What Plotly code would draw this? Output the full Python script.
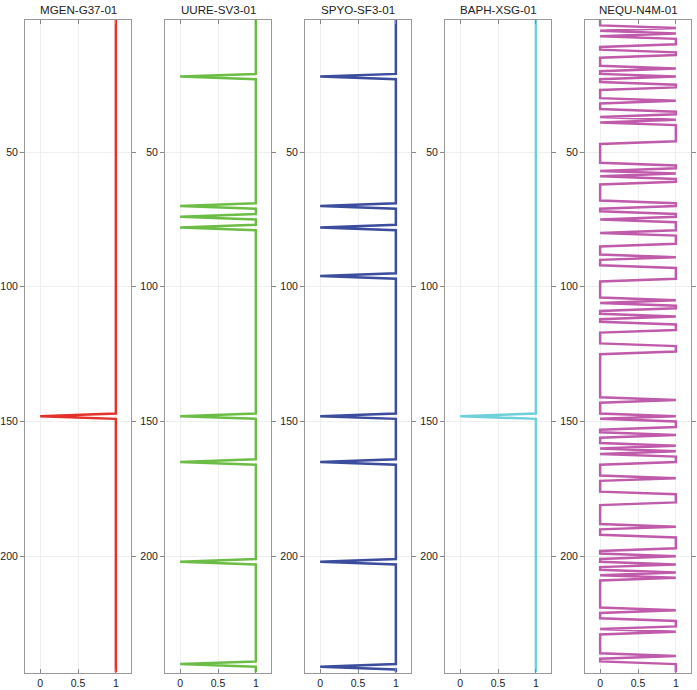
import plotly.graph_objects as go

n_rows = 243
rows = list(range(1, n_rows + 1))

titles = ["MGEN-G37-01", "UURE-SV3-01", "SPYO-SF3-01", "BAPH-XSG-01", "NEQU-N4M-01"]
colors = ["#e2322a", "#6cbd45", "#3b4d9c", "#6fd0d9", "#c05aab"]

# rows whose value is 0 (all other rows are 1)
mgen_zero_rows = [148]
uure_zero_rows = [22, 70, 74, 78, 148, 165, 202, 240]
spyo_zero_rows = [22, 70, 78, 96, 148, 165, 202, 241]
baph_zero_rows = [148]
# runs (start, end) of rows with value 0
nequ_zero_runs = [(1, 3), (5, 5), (7, 7), (11, 12), (15, 18), (20, 21), (23, 24), (27, 30),
                  (32, 34), (37, 37), (39, 39), (47, 54), (57, 57), (59, 59), (62, 68),
                  (71, 72), (75, 75), (80, 80), (85, 88), (90, 92), (98, 104), (106, 106),
                  (109, 110), (112, 113), (117, 121), (125, 141), (143, 147), (149, 149),
                  (153, 154), (156, 158), (160, 160), (162, 162), (166, 170), (172, 176),
                  (181, 188), (190, 192), (198, 199), (201, 202), (204, 205), (207, 207),
                  (209, 219), (221, 223), (227, 227), (229, 236), (238, 239)]

y_ticks = [50, 100, 150, 200]
x_ticks = [0, 0.5, 1]
x_tick_text = ["0", "0.5", "1"]


def from_zero_rows(zr):
    z = set(zr)
    return [0 if r in z else 1 for r in rows]


def from_zero_runs(runs):
    z = set()
    for a, b in runs:
        z.update(range(a, b + 1))
    return [0 if r in z else 1 for r in rows]


series = [
    from_zero_rows(mgen_zero_rows),
    from_zero_rows(uure_zero_rows),
    from_zero_rows(spyo_zero_rows),
    from_zero_rows(baph_zero_rows),
    from_zero_runs(nequ_zero_runs),
]

W, H = 697, 690
ml, mr, mt, mb = 25, 6, 20, 17
pw = W - ml - mr

fig = go.Figure()
layout = dict(
    template="none",
    width=W, height=H,
    margin=dict(l=ml, r=mr, t=mt, b=mb, autoexpand=False),
    paper_bgcolor="white", plot_bgcolor="white",
    showlegend=False,
    font=dict(family="Liberation Sans, Arial, sans-serif", size=11, color="#333333"),
)
annotations = []
for i, (t, c, vals) in enumerate(zip(titles, colors, series)):
    k = "" if i == 0 else str(i + 1)
    fig.add_trace(go.Scatter(x=vals, y=rows, mode="lines",
                             line=dict(color=c, width=2.5),
                             xaxis="x" + k, yaxis="y" + k, hoverinfo="skip"))
    d0 = 140 * i / pw
    d1 = (140 * i + 106) / pw
    layout["xaxis" + k] = dict(domain=[d0, min(d1, 1.0)], range=[-0.2, 1.2],
                               anchor="y" + k, tickvals=x_ticks, ticktext=x_tick_text,
                               ticks="inside", ticklen=4, tickcolor="#888888",
                               showgrid=True, gridcolor="#efefef", gridwidth=1,
                               showline=True, linecolor="#999999", linewidth=1,
                               mirror="ticks", zeroline=False, automargin=False,
                               tickfont=dict(size=10.5, color="#222222"))
    layout["yaxis" + k] = dict(domain=[0, 1], range=[n_rows + 0.3, 1], autorange=False,
                               anchor="x" + k, tickvals=y_ticks,
                               ticks="outside", ticklen=4, tickcolor="#888888",
                               showgrid=True, gridcolor="#efefef", gridwidth=1,
                               showline=True, linecolor="#999999", linewidth=1,
                               mirror="ticks", zeroline=False, automargin=False,
                               tickfont=dict(size=10.5, color="#222222"))
    annotations.append(dict(text=t, xref="x" + k + " domain", yref="y" + k + " domain",
                            x=0.5, y=1, xanchor="center", yanchor="bottom", yshift=2,
                            showarrow=False, font=dict(size=11.6, color="#222222")))
layout["annotations"] = annotations
fig.update_layout(**layout)
fig.write_html("out.html", config={"displayModeBar": False},
               post_script="document.body.style.margin='0px';document.body.style.padding='0px';")
